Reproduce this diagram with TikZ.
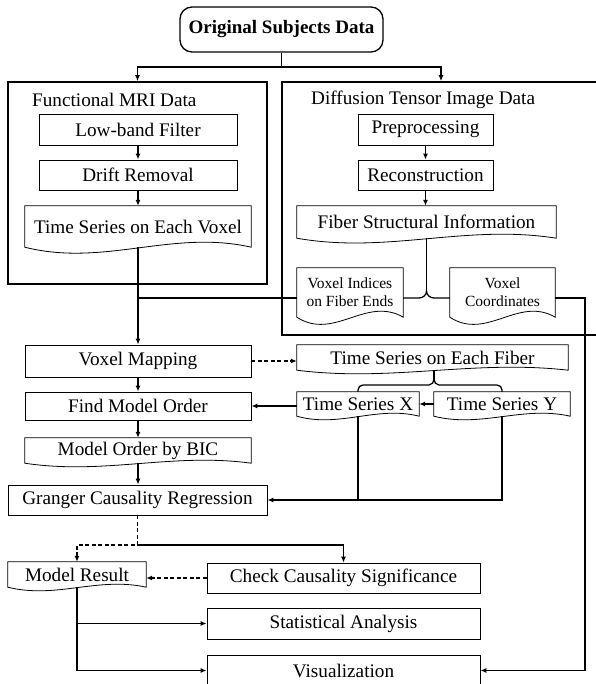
\documentclass[tikz,border=0pt]{standalone}
\usepackage{fontspec}
\setmainfont{Liberation Serif}
\usetikzlibrary{arrows.meta,calc}
\tikzset{
  base/.style={inner sep=0pt, font=\fontsize{19.2}{21}\selectfont},
  box/.style={base, draw, line width=0.8pt},
  doc/.style={base},
  grp/.style={draw, line width=1.6pt, inner sep=0pt},
  lbl/.style={base, anchor=west},
  conn/.style={line width=1.3pt},
  arr/.style={conn, -{Latex[length=6pt,width=5pt]}},
  dsh/.style={line width=1.8pt, dash pattern=on 4pt off 2.5pt},
  docline/.style={line width=0.8pt}
}
\newcommand\docshape[2][1]{%
  \pgfmathsetmacro\ampA{18*#1}\pgfmathsetmacro\ampB{20*#1}%
  \draw[docline] (#2.north west) -- (#2.north east) -- (#2.south east)
    .. controls ($(#2.south west)!0.65!(#2.south east)+(0pt,\ampA pt)$)
    and ($(#2.south west)!0.35!(#2.south east)+(0pt,-\ampB pt)$) .. (#2.south west) -- cycle;}
\begin{document}
\begin{tikzpicture}[x=1pt,y=-1pt]
\useasboundingbox (0,0) rectangle (595,684);
% top
\node[box, line width=1.3pt, rounded corners=12pt, minimum width=203pt, minimum height=45pt, font=\fontsize{19}{21}\selectfont\bfseries] (orig) at (281.5,29.5) {Original Subjects Data};
% groups
\node[grp, minimum width=259pt, minimum height=202pt] (fmri) at (137.5,183) {};
\node[grp, minimum width=318pt, minimum height=253pt] (dti) at (441,208.5) {};
\node[lbl] (fmrilbl) at (32,100) {Functional MRI Data};
\node[lbl] (dtilbl) at (311,100) {Diffusion Tensor Image Data};
% fMRI chain
\node[box, minimum width=198pt, minimum height=31pt] (lowband) at (138,129.5) {Low-band Filter};
\node[box, minimum width=198pt, minimum height=30pt] (drift) at (138,175) {Drift Removal};
\node[doc, minimum width=226pt, minimum height=41pt] (tsvoxel) at (138,226.5) {Time Series on Each Voxel};
\docshape{tsvoxel}
% DTI chain
\node[box, minimum width=135pt, minimum height=31pt] (preproc) at (425.5,129.5) {Preprocessing};
\node[box, minimum width=135pt, minimum height=30pt] (recon) at (425.5,175) {Reconstruction};
\node[doc, minimum width=259pt, minimum height=32pt] (fiberinfo) at (426.5,222) {Fiber Structural Information};
\docshape[0.8]{fiberinfo}
\node[doc, minimum width=106pt, minimum height=49pt, align=center, font=\fontsize{15.5}{18}\selectfont] (voxidx) at (350,292.5) {Voxel Indices\\on Fiber Ends};
\docshape[1.2]{voxidx}
\node[doc, minimum width=105pt, minimum height=49pt, align=center, font=\fontsize{15.5}{18}\selectfont] (voxcoord) at (502.5,292.5) {Voxel\\Coordinates};
\docshape[1.2]{voxcoord}
% middle
\node[box, minimum width=226pt, minimum height=32pt] (voxmap) at (138,361) {Voxel Mapping};
\node[doc, minimum width=271pt, minimum height=25pt] (tsfiber) at (432.5,357.5) {Time Series on Each Fiber};
\docshape[0.6]{tsfiber}
\node[box, minimum width=226pt, minimum height=28pt] (findorder) at (138,406) {Find Model Order};
\node[doc, minimum width=122pt, minimum height=24pt] (tsX) at (358,404) {Time Series X};
\docshape[0.6]{tsX}
\node[doc, minimum width=136pt, minimum height=24pt] (tsY) at (502,404) {Time Series Y};
\docshape[0.6]{tsY}
\node[doc, minimum width=226pt, minimum height=25pt] (bic) at (138,450.5) {Model Order by BIC};
\docshape[0.6]{bic}
\node[box, minimum width=259pt, minimum height=30pt] (granger) at (137.5,500) {Granger Causality Regression};
% bottom
\node[doc, minimum width=138pt, minimum height=25pt] (modelres) at (77,574.5) {Model Result};
\docshape[0.6]{modelres}
\node[box, minimum width=273pt, minimum height=30pt] (check) at (343.5,578) {Check Causality Significance};
\node[box, minimum width=273pt, minimum height=31pt] (stat) at (343.5,623.5) {Statistical Analysis};
\node[box, minimum width=273pt, minimum height=31pt] (vis) at (343.5,670.5) {Visualization};
% connectors
\coordinate (split) at (281.5,67);
\draw[conn] (orig.south) -- (split);
\draw[arr] (split) -| (fmri.north);
\draw[arr] (split) -| (dti.north);
\draw[arr] (lowband.south) -- (drift.north);
\draw[arr] (drift.south) -- (tsvoxel.north);
\draw[arr] (preproc.south) -- (recon.north);
\draw[arr] (recon.south) -- (recon.south |- fiberinfo.north);
\coordinate (j1) at (138,298);
\coordinate (bt) at (426.5,291);
\draw[arr] (tsvoxel.south) -- (voxmap.north);
\draw[conn] (j1) -- (voxidx.west |- j1);
\draw[conn] (fiberinfo.south) -- (bt);
\draw[conn] (voxidx.east |- j1) -- (419,298) to[out=0,in=-90] (bt) to[out=-90,in=180] (434,298) -- (voxcoord.west |- j1);
\coordinate (rr) at (585,298);
\draw[arr] (voxcoord.east |- j1) -- (rr) |- (vis.east);
\draw[arr, dsh] (voxmap.east) -- (tsfiber.west |- voxmap.east);
\draw[arr] (voxmap.south) -- (findorder.north);
\coordinate (bt2) at (434,379);
\draw[conn] (tsfiber.south -| bt2) -- (bt2);
\draw[conn] (tsX.north) -- (358,390) to[out=90,in=180] (363,385) -- (429,385) to[out=0,in=-90] (bt2) to[out=-90,in=180] (439,385) -- (497,385) to[out=0,in=90] (502,390) -- (tsY.north);
\draw[arr] (tsY.west) -- (tsX.east);
\draw[arr] (tsX.west |- findorder.east) -- (findorder.east);
\draw[conn] (tsX.south) -- (tsX.south |- granger.east);
\draw[arr] (tsY.south) -- (tsY.south |- granger.east) -- (granger.east);
\draw[arr] (findorder.south) -- (bic.north);
\draw[arr] (bic.south) -- (bic.south |- granger.north);
\coordinate (g2) at (137.5,545);
\draw[arr] (g2) -| (check.north);
\draw[arr, dsh] (granger.south) -- (g2) -| (modelres.north);
\draw[arr, dsh] (check.west) -- (modelres.east |- check.west);
\draw[conn] (modelres.south) -- (modelres.south |- vis.west);
\draw[arr] (modelres.south |- stat.west) -- (stat.west);
\draw[arr] (modelres.south |- vis.west) -- (vis.west);
\end{tikzpicture}
\end{document}
